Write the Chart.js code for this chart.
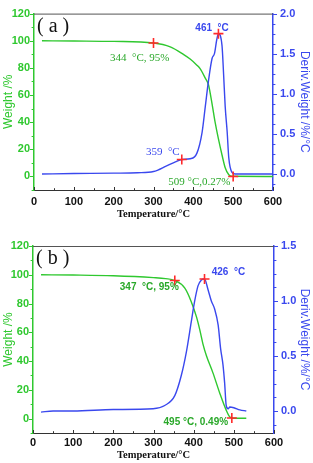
<!DOCTYPE html>
<html>
<head>
<meta charset="utf-8">
<script src="https://cdn.jsdelivr.net/npm/chart.js@4.4.1/dist/chart.umd.min.js"></script>
<style>
  body { margin: 0; background: #fff; }
  canvas { display: block; }
</style>
</head>
<body>
<canvas id="chartA" width="313" height="230"></canvas>
<canvas id="chartB" width="313" height="233"></canvas>
<script>
// ---- panel (a) ----
const weightTempA = [20, 100, 200, 300, 342, 375, 392, 409, 417, 430, 438, 447, 455, 463, 472, 480, 489, 497, 600];
const weightA     = [100, 99.8, 99.5, 98.3, 95.5, 90, 86.5, 82, 79.4, 72.4, 67.6, 53.5, 39.4, 27.6, 15.8, 6.4, 1.2, 0.1, 0];
const derivTempA  = [20, 100, 200, 260, 300, 333, 355, 371, 392, 409, 422, 430, 438, 447, 453, 459, 463, 472, 476, 480, 485, 489, 497, 505, 600];
const derivA      = [0, 0.005, 0.01, 0.015, 0.03, 0.1, 0.15, 0.18, 0.19, 0.26, 0.52, 0.84, 1.16, 1.44, 1.5, 1.68, 1.75, 1.6, 1.24, 0.84, 0.52, 0.2, 0.02, 0, 0];
const weightMarksA = [{ x: 300, y: 98.3 }, { x: 500, y: 0 }];
const derivMarksA  = [{ x: 371, y: 0.18 }, { x: 463, y: 1.75 }];

// ---- panel (b) ----
const weightTempB = [20, 100, 200, 300, 330, 353, 378, 394, 407, 415, 423, 432, 448, 465, 481, 490, 498, 531];
const weightB     = [100, 99.8, 99.3, 98, 97.3, 96, 90.7, 81.3, 70.7, 62, 52, 43.5, 31.8, 17.7, 5.9, 1.1, 0.3, 0.3];
const derivTempB  = [20, 50, 100, 200, 299, 328, 353, 369, 382, 394, 402, 411, 419, 427, 436, 444, 452, 461, 467, 473, 477, 481, 486, 490, 500, 515, 531];
const derivB      = [-0.01, 0, 0, 0.013, 0.02, 0.05, 0.14, 0.32, 0.54, 0.81, 0.99, 1.14, 1.19, 1.2, 1.1, 1.0, 0.93, 0.78, 0.57, 0.42, 0.26, 0.05, 0.02, 0.036, 0.03, 0.01, 0];
const weightMarksB = [{ x: 353, y: 96 }, { x: 495, y: 0.4 }];
const derivMarksB  = [{ x: 427, y: 1.2 }];

const xTicks = [0, 100, 200, 300, 400, 500, 600];

const GREEN = '#2fc82f';
const GREEN_TXT = '#2aa82a';
const BLUE = '#3a48ee';
const RED = '#ff2a2a';
const SANS = "'Liberation Sans', Arial, sans-serif";
const SERIF = "'Liberation Serif', 'Times New Roman', serif";

const toPoints = (xs, ys) => xs.map((x, i) => ({ x, y: ys[i] }));

// outside/inside tick marks, minor ticks and the top frame line
const framePlugin = {
  id: 'frame',
  afterDraw(chart, args, opts) {
    const { ctx, chartArea: a, scales } = chart;
    ctx.save();
    ctx.lineWidth = 1;
    ctx.strokeStyle = '#555';
    ctx.beginPath();
    ctx.moveTo(a.left, a.top + 0.5);
    ctx.lineTo(a.right, a.top + 0.5);
    ctx.stroke();

    opts.axes.forEach((ax) => {
      const s = scales[ax.id];
      const step = ax.major / (ax.minor + 1);
      ctx.strokeStyle = ax.color;
      ctx.lineWidth = 1;
      ctx.beginPath();
      for (let i = Math.ceil(s.min / step - 1e-6); i * step <= s.max + 1e-6; i++) {
        const v = i * step;
        const isMajor = i % (ax.minor + 1) === 0;
        const len = isMajor ? ax.len : ax.len * 0.6;
        const p = Math.round(s.getPixelForValue(v)) + 0.5;
        if (ax.id === 'x') {
          ctx.moveTo(p, a.bottom);
          ctx.lineTo(p, a.bottom - len);
        } else if (ax.side === 'left') {
          ctx.moveTo(a.left, p);
          ctx.lineTo(a.left - len, p);
        } else {
          ctx.moveTo(a.right, p);
          ctx.lineTo(a.right + len, p);
        }
      }
      ctx.stroke();
    });
    ctx.restore();
  },
};

// text labels beside the markers and the panel letter
const notesPlugin = {
  id: 'notes',
  afterDatasetsDraw(chart, args, opts) {
    const { ctx, chartArea: a, scales } = chart;
    ctx.save();
    ctx.textBaseline = 'middle';
    ctx.textAlign = 'left';
    opts.items.forEach((n) => {
      ctx.font = n.font;
      ctx.fillStyle = n.color;
      ctx.fillText(n.text, scales.x.getPixelForValue(n.x), scales[n.axis].getPixelForValue(n.y));
    });
    ctx.font = `20px ${SERIF}`;
    ctx.fillStyle = '#111';
    ctx.fillText(opts.letter, a.left + 3, a.top + 13);
    ctx.restore();
  },
};

function buildPanel(canvas, cfg) {
  const lineSet = (data, axis, color) => ({
    data,
    yAxisID: axis,
    borderColor: color,
    borderWidth: 1.4,
    pointRadius: 0,
    cubicInterpolationMode: 'monotone',
    fill: false,
    order: 2,
  });
  const markSet = (data, axis) => ({
    data,
    yAxisID: axis,
    showLine: false,
    pointStyle: 'cross',
    pointRadius: 5,
    borderColor: RED,
    borderWidth: 1.6,
    order: 0,
  });

  return new Chart(canvas, {
    type: 'line',
    data: {
      datasets: [
        markSet(cfg.weightMarks, 'yW'),
        markSet(cfg.derivMarks, 'yD'),
        lineSet(cfg.derivLine, 'yD', BLUE),
        lineSet(cfg.weightLine, 'yW', GREEN),
      ],
    },
    options: {
      responsive: false,
      animation: false,
      events: [],
      layout: { padding: { top: cfg.top, left: 0, right: 0, bottom: 0 } },
      plugins: {
        legend: { display: false },
        tooltip: { enabled: false },
        frame: {
          axes: [
            { id: 'x', major: 100, minor: 1, len: 3, color: '#333' },
            { id: 'yW', side: 'left', major: 20, minor: 1, len: 4, color: GREEN },
            { id: 'yD', side: 'right', major: 0.5, minor: 3, len: 4, color: BLUE },
          ],
        },
        notes: { items: cfg.notes, letter: cfg.letter },
      },
      scales: {
        x: {
          type: 'linear',
          min: 0,
          max: 600,
          afterBuildTicks: (s) => { s.ticks = xTicks.map((v) => ({ value: v })); },
          ticks: { color: '#111', padding: cfg.xPad, font: { family: SANS, size: 11, weight: 'bold' } },
          grid: { display: true, drawOnChartArea: false, drawTicks: false },
          border: { color: '#333', width: 1 },
          title: {
            display: true,
            text: 'Temperature/°C',
            color: '#111',
            font: { family: SERIF, size: 10.5, weight: 'bold' },
            padding: { top: 0, bottom: cfg.titlePad },
          },
          afterFit: (s) => { s.height = cfg.xHeight; },
        },
        yW: {
          position: 'left',
          min: -10,
          max: 120,
          ticks: {
            stepSize: 20,
            color: GREEN,
            padding: 4,
            font: { family: SANS, size: 11, weight: 'bold' },
            callback: (v) => (v < 0 ? '' : v),
          },
          grid: { display: true, drawOnChartArea: false, drawTicks: false },
          border: { color: GREEN, width: 1.5 },
          title: { display: true, text: 'Weight /%', color: GREEN, font: { family: SANS, size: 12 }, padding: 1 },
          afterFit: (s) => { s.width = cfg.leftW; },
        },
        yD: {
          position: 'right',
          min: -0.2,
          max: cfg.derivMax,
          ticks: {
            stepSize: 0.5,
            color: BLUE,
            padding: 7,
            font: { family: SANS, size: 11, weight: 'bold' },
            callback: (v) => (v < 0 ? '' : v.toFixed(1)),
          },
          grid: { display: true, drawOnChartArea: false, drawTicks: false },
          border: { color: BLUE, width: 1.5 },
          title: { display: true, text: 'Deriv.Weight /%/°C', color: BLUE, font: { family: SANS, size: 12 }, padding: 1 },
          afterFit: (s) => { s.width = 313 - cfg.rightX; },
        },
      },
    },
    plugins: [framePlugin, notesPlugin],
  });
}

buildPanel(document.getElementById('chartA'), {
  weightLine: toPoints(weightTempA, weightA),
  derivLine: toPoints(derivTempA, derivA),
  weightMarks: weightMarksA,
  derivMarks: derivMarksA,
  derivMax: 2.0,
  letter: '( a )',
  top: 6,
  leftW: 34,
  rightX: 273,
  xHeight: 40,
  xPad: 5,
  titlePad: 9,
  notes: [
    { text: '344  °C, 95%', x: 191, y: 87.4, axis: 'yW', color: GREEN_TXT, font: `11px ${SERIF}` },
    { text: '461  °C', x: 405, y: 1.82, axis: 'yD', color: BLUE, font: `bold 10px ${SANS}` },
    { text: '359  °C', x: 281, y: 0.27, axis: 'yD', color: BLUE, font: `11px ${SERIF}` },
    { text: '509 °C,0.27%', x: 337, y: -4.5, axis: 'yW', color: GREEN_TXT, font: `11px ${SERIF}` },
  ],
});

buildPanel(document.getElementById('chartB'), {
  weightLine: toPoints(weightTempB, weightB),
  derivLine: toPoints(derivTempB, derivB),
  weightMarks: weightMarksB,
  derivMarks: derivMarksB,
  derivMax: 1.5,
  letter: '( b )',
  top: 16,
  leftW: 33,
  rightX: 274,
  xHeight: 30,
  xPad: 3,
  titlePad: 1,
  notes: [
    { text: '347  °C, 95%', x: 216, y: 91.4, axis: 'yW', color: GREEN_TXT, font: `bold 10px ${SANS}` },
    { text: '426  °C', x: 445, y: 1.26, axis: 'yD', color: BLUE, font: `bold 10px ${SANS}` },
    { text: '495 °C, 0.49%', x: 325, y: -2.4, axis: 'yW', color: GREEN_TXT, font: `bold 10px ${SANS}` },
  ],
});
</script>
</body>
</html>
